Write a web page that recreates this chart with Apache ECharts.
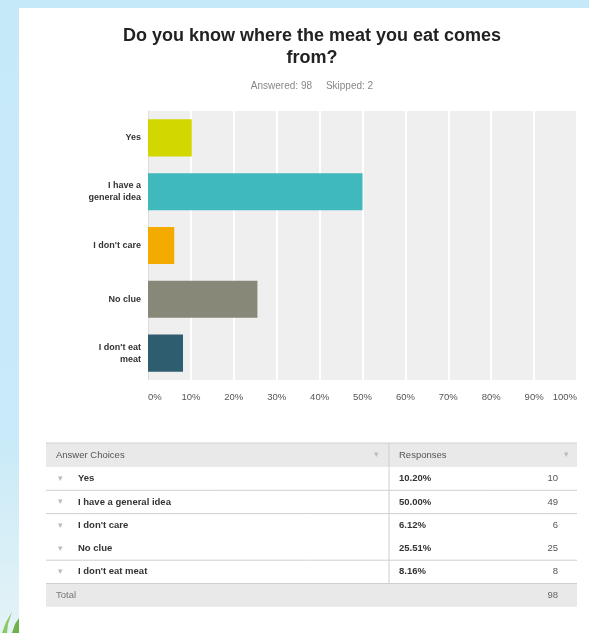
<!DOCTYPE html>
<html>
<head>
<meta charset="utf-8">
<script src="https://cdn.jsdelivr.net/npm/echarts@6/dist/echarts.min.js"></script>
<style>
  html, body { margin: 0; padding: 0; }
  #chart { width: 589px; height: 633px; }
</style>
</head>
<body>
<div id="chart"></div>
<script>
// Survey answers
const categories = ['Yes', 'I have a general idea', "I don't care", 'No clue', "I don't eat meat"];
const axisNames = ['Yes', 'I have a\ngeneral idea', "I don't care", 'No clue', "I don't eat\nmeat"];
const percents = [10.20, 50.00, 6.12, 25.51, 8.16];
const counts = [10, 49, 6, 25, 8];
const answered = 98;
const skipped = 2;
const barColors = ['#d2d700', '#3fb9bc', '#f4ab00', '#878877', '#2e5d70'];

const FONT = '"Liberation Sans", Arial, Helvetica, sans-serif';
const chart = echarts.init(document.getElementById('chart'));

// Table under the chart
const tableLeft = 46, tableRight = 577, colSplit = 389;
const headerTop = 443, headerH = 24, rowH = 23.3;
const g = [];
g.push({ type: 'rect', z: -100, shape: { x: 0, y: 0, width: 589, height: 633 }, style: {
  fill: new echarts.graphic.LinearGradient(0, 0, 0, 1, [
    { offset: 0, color: '#c6e9f9' }, { offset: 0.7, color: '#c9eaf8' }, { offset: 1, color: '#e4f3f6' }
  ]) } });
g.push({ type: 'rect', z: -90, shape: { x: 19, y: 8, width: 570, height: 625 }, style: { fill: '#ffffff' } });
// grass blades at the lower left
g.push({ type: 'polygon', z: -95, shape: { points: [[2, 633], [6, 622], [12, 612], [8, 624], [7, 633]] }, style: { fill: '#8cc866' } });
g.push({ type: 'polygon', z: -95, shape: { points: [[12, 633], [15, 624], [19, 618], [19, 633]] }, style: { fill: '#6db34a' } });

g.push({ type: 'rect', shape: { x: tableLeft, y: headerTop, width: tableRight - tableLeft, height: headerH }, style: { fill: '#e9e9e9' } });
g.push({ type: 'line', shape: { x1: tableLeft, y1: headerTop, x2: tableRight, y2: headerTop }, style: { stroke: '#d0d0d0', lineWidth: 1 } });
g.push({ type: 'text', style: { x: 56, y: headerTop + headerH / 2, text: 'Answer Choices', font: '9.5px ' + FONT, fill: '#555', verticalAlign: 'middle' } });
g.push({ type: 'text', style: { x: 399, y: headerTop + headerH / 2, text: 'Responses', font: '9.5px ' + FONT, fill: '#555', verticalAlign: 'middle' } });
g.push({ type: 'text', style: { x: 376, y: headerTop + headerH / 2, text: '▾', font: '9px ' + FONT, fill: '#bbb', align: 'center', verticalAlign: 'middle' } });
g.push({ type: 'text', style: { x: 566, y: headerTop + headerH / 2, text: '▾', font: '9px ' + FONT, fill: '#bbb', align: 'center', verticalAlign: 'middle' } });

const bodyTop = headerTop + headerH;
const rowLines = [true, true, false, true, false];
categories.forEach(function (c, i) {
  const cy = bodyTop + rowH * (i + 0.5);
  g.push({ type: 'text', style: { x: 60, y: cy, text: '▾', font: '9px ' + FONT, fill: '#bbb', align: 'center', verticalAlign: 'middle' } });
  g.push({ type: 'text', style: { x: 78, y: cy, text: c, font: 'bold 9.5px ' + FONT, fill: '#333', verticalAlign: 'middle' } });
  g.push({ type: 'text', style: { x: 399, y: cy, text: percents[i].toFixed(2) + '%', font: 'bold 9.5px ' + FONT, fill: '#333', verticalAlign: 'middle' } });
  g.push({ type: 'text', style: { x: 558, y: cy, text: String(counts[i]), font: '9.5px ' + FONT, fill: '#555', align: 'right', verticalAlign: 'middle' } });
  if (rowLines[i]) {
    const ly = bodyTop + rowH * (i + 1);
    g.push({ type: 'line', shape: { x1: tableLeft, y1: ly, x2: tableRight, y2: ly }, style: { stroke: '#cfcfcf', lineWidth: 1 } });
  }
});
const bodyBottom = bodyTop + rowH * categories.length;
g.push({ type: 'line', shape: { x1: colSplit, y1: headerTop, x2: colSplit, y2: bodyBottom }, style: { stroke: '#cfcfcf', lineWidth: 1 } });
g.push({ type: 'rect', shape: { x: tableLeft, y: bodyBottom, width: tableRight - tableLeft, height: rowH }, style: { fill: '#e9e9e9' } });
g.push({ type: 'line', shape: { x1: tableLeft, y1: bodyBottom, x2: tableRight, y2: bodyBottom }, style: { stroke: '#cfcfcf', lineWidth: 1 } });
g.push({ type: 'text', style: { x: 56, y: bodyBottom + rowH / 2, text: 'Total', font: '9.5px ' + FONT, fill: '#777', verticalAlign: 'middle' } });
g.push({ type: 'text', style: { x: 558, y: bodyBottom + rowH / 2, text: String(answered), font: '9.5px ' + FONT, fill: '#666', align: 'right', verticalAlign: 'middle' } });

chart.setOption({
  animation: false,
  textStyle: { fontFamily: FONT },
  title: {
    text: 'Do you know where the meat you eat comes\nfrom?',
    subtext: 'Answered: ' + answered + '     Skipped: ' + skipped,
    left: 307, textAlign: 'center', top: 20,
    textStyle: { fontSize: 18, fontWeight: 'bold', color: '#222', lineHeight: 22, fontFamily: FONT },
    subtextStyle: { fontSize: 10, color: '#888', fontFamily: FONT },
    itemGap: 12
  },
  grid: { left: 148, right: 12, top: 111, bottom: 253, show: true, backgroundColor: '#efefef', borderWidth: 0 },
  xAxis: {
    type: 'value', min: 0, max: 100, interval: 10,
    axisLine: { show: false }, axisTick: { show: false },
    splitLine: { show: true, lineStyle: { color: '#ffffff', width: 2 } },
    axisLabel: { formatter: '{value}%', fontSize: 9.5, color: '#555', margin: 12, alignMinLabel: 'left', alignMaxLabel: 'right' }
  },
  yAxis: {
    type: 'category', inverse: true, data: axisNames,
    axisLine: { show: true, lineStyle: { color: '#dddddd' } }, axisTick: { show: false },
    axisLabel: { fontSize: 9, fontWeight: 'bold', color: '#333', margin: 7, lineHeight: 12, align: 'right' }
  },
  series: [{
    type: 'bar',
    data: percents.map(function (v, i) { return { value: v, itemStyle: { color: barColors[i] } }; }),
    barCategoryGap: '31%'
  }],
  graphic: g
});
</script>
</body>
</html>
